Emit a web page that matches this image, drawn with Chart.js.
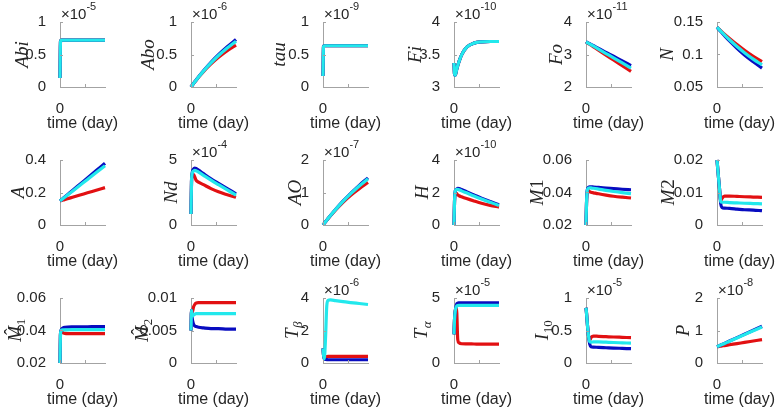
<!DOCTYPE html>
<html>
<head>
<meta charset="utf-8">
<script src="https://cdn.jsdelivr.net/npm/chart.js@4.4.1/dist/chart.umd.min.js"></script>
<style>
  body { margin:0; background:#fff; width:777px; height:410px; overflow:hidden; position:relative; }
  .cell { position:absolute; }
</style>
</head>
<body>
<script>
// ── Shared axis data ─────────────────────────────────────────
const t = [0, 2, 5, 10, 15, 20, 30, 50, 80, 110, 145, 180];
const xTicks = [0, 100];
const xTickLabels = ['0', ''];
const xLabel = 'time (day)';

// ── Row 1 ────────────────────────────────────────────────────
const abiRed  = [0.14, 0.70, 0.72, 0.72, 0.72, 0.72, 0.72, 0.72, 0.72, 0.72, 0.72, 0.72];
const abiBlue = [0.14, 0.70, 0.72, 0.72, 0.72, 0.72, 0.72, 0.72, 0.72, 0.72, 0.72, 0.72];
const abiCyan = [0.14, 0.70, 0.72, 0.72, 0.72, 0.72, 0.72, 0.72, 0.72, 0.72, 0.72, 0.72];

const aboRed  = [0, 0.011, 0.026, 0.052, 0.077, 0.101, 0.149, 0.237, 0.355, 0.458, 0.560, 0.645];
const aboBlue = [0, 0.011, 0.027, 0.053, 0.079, 0.105, 0.154, 0.249, 0.379, 0.496, 0.618, 0.730];
const aboCyan = [0, 0.011, 0.027, 0.053, 0.078, 0.103, 0.152, 0.245, 0.370, 0.485, 0.600, 0.705];

const tauRed  = [0.17, 0.62, 0.635, 0.635, 0.635, 0.635, 0.635, 0.635, 0.635, 0.635, 0.635, 0.635];
const tauBlue = [0.17, 0.62, 0.635, 0.635, 0.635, 0.635, 0.635, 0.635, 0.635, 0.635, 0.635, 0.635];
const tauCyan = [0.17, 0.62, 0.635, 0.635, 0.635, 0.635, 0.635, 0.635, 0.635, 0.635, 0.635, 0.635];

const fiRed  = [3.37, 3.20, 3.18, 3.26, 3.33, 3.39, 3.49, 3.61, 3.675, 3.695, 3.70, 3.70];
const fiBlue = [3.37, 3.20, 3.18, 3.26, 3.33, 3.39, 3.49, 3.61, 3.675, 3.695, 3.70, 3.70];
const fiCyan = [3.37, 3.20, 3.18, 3.26, 3.33, 3.39, 3.49, 3.61, 3.675, 3.695, 3.70, 3.70];

const foRed  = [3.39, 3.378, 3.362, 3.335, 3.31, 3.285, 3.235, 3.135, 2.98, 2.83, 2.655, 2.48];
const foBlue = [3.39, 3.382, 3.37, 3.35, 3.33, 3.31, 3.27, 3.19, 3.065, 2.945, 2.80, 2.66];
const foCyan = [3.39, 3.381, 3.367, 3.345, 3.322, 3.30, 3.255, 3.165, 3.03, 2.895, 2.74, 2.58];

const nRed  = [0.142, 0.1413, 0.1402, 0.1384, 0.1366, 0.1348, 0.1314, 0.1248, 0.1153, 0.1065, 0.0971, 0.089];
const nBlue = [0.142, 0.1411, 0.1397, 0.1375, 0.1353, 0.1331, 0.1289, 0.1208, 0.1096, 0.0993, 0.0888, 0.079];
const nCyan = [0.142, 0.1412, 0.1400, 0.1379, 0.1359, 0.1339, 0.1301, 0.1227, 0.1123, 0.1028, 0.0928, 0.084];

// ── Row 2 ────────────────────────────────────────────────────
const aRed  = [0.148, 0.1489, 0.1503, 0.1526, 0.1548, 0.1571, 0.1617, 0.1708, 0.1845, 0.1981, 0.2141, 0.23];
const aBlue = [0.148, 0.1506, 0.1544, 0.1609, 0.1673, 0.1738, 0.1867, 0.2124, 0.2511, 0.2898, 0.3349, 0.38];
const aCyan = [0.148, 0.1504, 0.154, 0.1601, 0.1661, 0.1721, 0.1842, 0.2083, 0.2445, 0.2807, 0.3229, 0.365];

const ndRed  = [0.85, 3.3, 3.9, 3.88, 3.7, 3.45, 3.3, 3.1, 2.8, 2.55, 2.33, 2.13];
const ndBlue = [0.85, 3.3, 4.05, 4.3, 4.38, 4.35, 4.22, 3.95, 3.55, 3.2, 2.8, 2.4];
const ndCyan = [0.85, 3.3, 4.0, 4.15, 4.2, 4.18, 4.07, 3.82, 3.45, 3.1, 2.7, 2.3];

const aoRed  = [0, 0.02, 0.05, 0.099, 0.147, 0.194, 0.286, 0.46, 0.70, 0.91, 1.12, 1.31];
const aoBlue = [0, 0.02, 0.05, 0.10, 0.15, 0.198, 0.293, 0.476, 0.733, 0.968, 1.22, 1.45];
const aoCyan = [0, 0.02, 0.05, 0.10, 0.149, 0.197, 0.291, 0.472, 0.725, 0.955, 1.20, 1.42];

const hRed  = [0, 1.4, 2.0, 1.95, 1.85, 1.8, 1.74, 1.63, 1.48, 1.34, 1.21, 1.1];
const hBlue = [0, 1.4, 2.1, 2.2, 2.25, 2.24, 2.18, 2.05, 1.85, 1.65, 1.44, 1.24];
const hCyan = [0, 1.4, 2.1, 2.18, 2.2, 2.17, 2.1, 1.98, 1.78, 1.6, 1.4, 1.2];

const m1Red  = [0.02, 0.033, 0.041, 0.0412, 0.0405, 0.0401, 0.0398, 0.0392, 0.0384, 0.0377, 0.0371, 0.0366];
const m1Blue = [0.02, 0.033, 0.0415, 0.0432, 0.0435, 0.0435, 0.0434, 0.0431, 0.0427, 0.0424, 0.042, 0.0417];
const m1Cyan = [0.02, 0.033, 0.0412, 0.0427, 0.0429, 0.0428, 0.0426, 0.0421, 0.0413, 0.0406, 0.0399, 0.0393];

const m2Red  = [0.02, 0.0182, 0.0155, 0.0112, 0.0074, 0.0082, 0.0089, 0.0089, 0.0088, 0.0087, 0.0086, 0.0085];
const m2Blue = [0.02, 0.0182, 0.0155, 0.0112, 0.0065, 0.0054, 0.0052, 0.0051, 0.0049, 0.0047, 0.0046, 0.0044];
const m2Cyan = [0.02, 0.0182, 0.0155, 0.0112, 0.0072, 0.0070, 0.0070, 0.0069, 0.0068, 0.0067, 0.0066, 0.0065];

// ── Row 3 ────────────────────────────────────────────────────
const mh1Red  = [0.02, 0.038, 0.0398, 0.039, 0.0384, 0.0382, 0.0381, 0.0381, 0.0381, 0.0381, 0.0381, 0.0381];
const mh1Blue = [0.02, 0.038, 0.0405, 0.0415, 0.0419, 0.042, 0.0421, 0.0422, 0.0423, 0.0423, 0.0424, 0.0424];
const mh1Cyan = [0.02, 0.038, 0.0402, 0.0404, 0.0404, 0.0404, 0.0404, 0.0405, 0.0405, 0.0405, 0.0405, 0.0405];

const mh2Red  = [0.005, 0.0081, 0.0078, 0.0086, 0.009, 0.0092, 0.0093, 0.0093, 0.0093, 0.0093, 0.0093, 0.0093];
const mh2Blue = [0.005, 0.0081, 0.0068, 0.006, 0.0057, 0.0056, 0.0055, 0.0054, 0.0053, 0.0053, 0.0052, 0.0052];
const mh2Cyan = [0.005, 0.0081, 0.0072, 0.0074, 0.0075, 0.0076, 0.0076, 0.0076, 0.0076, 0.0076, 0.0076, 0.0076];

const tbRed  = [0.9, 0.5, 0.3, 0.38, 0.4, 0.41, 0.41, 0.41, 0.41, 0.41, 0.41, 0.41];
const tbBlue = [0.9, 0.5, 0.25, 0.22, 0.21, 0.2, 0.2, 0.2, 0.2, 0.2, 0.2, 0.2];
const tbCyan = [0.9, 0.5, 0.25, 1.5, 3.5, 3.85, 3.88, 3.84, 3.78, 3.72, 3.66, 3.6];

const taRed  = [2.2, 3.3, 4.0, 4.2, 1.8, 1.55, 1.48, 1.47, 1.46, 1.45, 1.45, 1.45];
const taBlue = [2.2, 3.3, 4.0, 4.5, 4.6, 4.62, 4.63, 4.63, 4.63, 4.63, 4.63, 4.63];
const taCyan = [2.2, 3.3, 4.0, 4.35, 4.42, 4.43, 4.43, 4.43, 4.43, 4.43, 4.43, 4.43];

const i10Red  = [0.85, 0.77, 0.62, 0.42, 0.35, 0.39, 0.415, 0.41, 0.405, 0.4, 0.395, 0.39];
const i10Blue = [0.85, 0.77, 0.62, 0.42, 0.29, 0.25, 0.245, 0.24, 0.235, 0.23, 0.225, 0.22];
const i10Cyan = [0.85, 0.77, 0.62, 0.42, 0.33, 0.32, 0.325, 0.325, 0.32, 0.315, 0.31, 0.305];

const pRed  = [0.5, 0.5024, 0.5061, 0.5122, 0.5183, 0.5244, 0.5367, 0.5611, 0.5978, 0.6344, 0.6772, 0.72];
const pBlue = [0.5, 0.507, 0.5175, 0.535, 0.5525, 0.57, 0.605, 0.675, 0.78, 0.885, 1.0075, 1.13];
const pCyan = [0.5, 0.507, 0.517, 0.534, 0.551, 0.568, 0.602, 0.669, 0.771, 0.873, 0.992, 1.11];

// ── Tick sets ────────────────────────────────────────────────
const ticks0to1   = [0, 0.5, 1];
const ticks3to4   = [3, 3.5, 4];
const ticks2to4   = [2, 3, 4];
const ticksN      = [0.05, 0.1, 0.15];
const ticksA      = [0, 0.2, 0.4];
const ticks0to5   = [0, 5];
const ticks0to2   = [0, 1, 2];
const ticks0to4   = [0, 2, 4];
const ticksM1     = [0.02, 0.04, 0.06];
const ticksM2     = [0, 0.01, 0.02];
const ticksMh2    = [0, 0.005, 0.01];

// ── Style ────────────────────────────────────────────────────
const RED = 'rgb(226,16,18)', BLUE = 'rgb(8,12,192)', CYAN = 'rgb(34,232,236)';
const TXT = '#262626', AXIS = '#a3a3a3';
const SANS = '"Liberation Sans", Arial, sans-serif';
const SERIF = '"Liberation Serif", "Times New Roman", serif';
const colX = [60, 191, 323, 454, 586, 717];
const rowY = [22, 160, 298];
const PADL = 62, PADT = 22, PADR = 14, PADB = 50, AXW = 45, AXH = 65;

const panels = [
  { lab:[{t:'Abi'}], exp:'-5',  min:0, max:1, ticks:ticks0to1, r:abiRed, b:abiBlue, c:abiCyan, dx:-38 },
  { lab:[{t:'Abo'}], exp:'-6',  min:0, max:1, ticks:ticks0to1, r:aboRed, b:aboBlue, c:aboCyan, dx:-43 },
  { lab:[{t:'tau'}], exp:'-9',  min:0, max:1, ticks:ticks0to1, r:tauRed, b:tauBlue, c:tauCyan, dx:-44 },
  { lab:[{t:'Fi'}],  exp:'-10', min:3, max:4, ticks:ticks3to4, r:fiRed,  b:fiBlue,  c:fiCyan,  dx:-39 },
  { lab:[{t:'Fo'}],  exp:'-11', min:2, max:4, ticks:ticks2to4, r:foRed,  b:foBlue,  c:foCyan,  dx:-30 },
  { lab:[{t:'N'}],   exp:null,  min:0.05, max:0.15, ticks:ticksN, r:nRed, b:nBlue, c:nCyan, dx:-50 },

  { lab:[{t:'A'}],   exp:null,  min:0, max:0.4, ticks:ticksA, r:aRed, b:aBlue, c:aCyan, dx:-42 },
  { lab:[{t:'Nd'}],  exp:'-4',  min:0, max:5, ticks:ticks0to5, r:ndRed, b:ndBlue, c:ndCyan, dx:-20 },
  { lab:[{t:'AO'}],  exp:'-7',  min:0, max:2, ticks:ticks0to2, r:aoRed, b:aoBlue, c:aoCyan, dx:-28 },
  { lab:[{t:'H'}],   exp:'-10', min:0, max:4, ticks:ticks0to4, r:hRed, b:hBlue, c:hCyan, dx:-32 },
  { lab:[{t:'M'},{t:'1',up:true}], exp:null, min:0.02, max:0.06, ticks:ticksM1, r:m1Red, b:m1Blue, c:m1Cyan, dx:-49 },
  { lab:[{t:'M'},{t:'2',up:true}], exp:null, min:0, max:0.02, ticks:ticksM2, r:m2Red, b:m2Blue, c:m2Cyan, dx:-49 },

  { lab:[{t:'M',hat:true},{t:'1',up:true,sub:true}], exp:null, min:0.02, max:0.06, ticks:ticksM1, r:mh1Red, b:mh1Blue, c:mh1Cyan, dx:-45 },
  { lab:[{t:'M',hat:true},{t:'2',up:true,sub:true}], exp:null, min:0, max:0.01, ticks:ticksMh2, r:mh2Red, b:mh2Blue, c:mh2Cyan, dx:-49 },
  { lab:[{t:'T'},{t:'β',sub:true}], exp:'-6', min:0, max:4, ticks:ticks0to4, r:tbRed, b:tbBlue, c:tbCyan, dx:-31 },
  { lab:[{t:'T'},{t:'α',sub:true}], exp:'-5', min:0, max:5, ticks:ticks0to5, r:taRed, b:taBlue, c:taCyan, dx:-33 },
  { lab:[{t:'I'},{t:'10',up:true,sub:true}], exp:'-5', min:0, max:1, ticks:ticks0to1, r:i10Red, b:i10Blue, c:i10Cyan, dx:-44 },
  { lab:[{t:'P'}],   exp:'-8',  min:0, max:2, ticks:ticks0to2, r:pRed, b:pBlue, c:pCyan, dx:-34 },
];

// ── Helpers ──────────────────────────────────────────────────
function pts(vals) { return t.map((x, i) => ({ x, y: vals[i] })); }
function fmt(v) { return String(+Number(v).toFixed(6)); }

function drawRich(ctx, parts) {
  const base = 19, sub = 13;
  const fontOf = q => (q.up ? '' : 'italic ') + (q.sub ? sub : base) + 'px ' + SERIF;
  let total = 0;
  const ws = parts.map(q => { ctx.font = fontOf(q); const w = ctx.measureText(q.t).width; total += w; return w; });
  let x = -total / 2;
  ctx.textAlign = 'left'; ctx.textBaseline = 'alphabetic';
  parts.forEach((q, i) => {
    ctx.font = fontOf(q);
    const y = q.sub ? 10 : 6;
    ctx.fillText(q.t, x, y);
    if (q.hat) {
      ctx.font = base + 'px ' + SERIF;
      ctx.textAlign = 'center';
      ctx.fillText('ˆ', x + ws[i] / 2 + 2, y - 4);
      ctx.textAlign = 'left';
    }
    x += ws[i] + (q.sub ? 0 : 0.5);
  });
}

function makeDecor(p) {
  return {
    id: 'decor',
    afterDraw(chart) {
      const { ctx, chartArea: a, scales } = chart;
      ctx.save();
      // inward tick marks
      ctx.strokeStyle = AXIS; ctx.lineWidth = 1;
      p.ticks.forEach(v => {
        const y = Math.round(scales.y.getPixelForValue(v)) + 0.5;
        ctx.beginPath(); ctx.moveTo(a.left, y); ctx.lineTo(a.left + 3, y); ctx.stroke();
      });
      xTicks.forEach(v => {
        const x = Math.round(scales.x.getPixelForValue(v)) + 0.5;
        ctx.beginPath(); ctx.moveTo(x, a.bottom); ctx.lineTo(x, a.bottom - 3); ctx.stroke();
      });
      // x title
      ctx.fillStyle = TXT;
      ctx.font = '16px ' + SANS;
      ctx.textAlign = 'center'; ctx.textBaseline = 'middle';
      ctx.fillText(xLabel, (a.left + a.right) / 2, a.bottom + 37);
      // exponent
      if (p.exp) {
        ctx.textAlign = 'left'; ctx.textBaseline = 'alphabetic';
        ctx.font = '15px ' + SANS;
        ctx.fillText('×10', a.left + 1, a.top - 3);
        const w = ctx.measureText('×10').width;
        ctx.font = '11px ' + SANS;
        ctx.fillText(p.exp, a.left + 1 + w, a.top - 12);
      }
      // y label
      ctx.translate(a.left + p.dx, (a.top + a.bottom) / 2);
      ctx.rotate(-Math.PI / 2);
      drawRich(ctx, p.lab);
      ctx.restore();
    }
  };
}

// ── Build grid ───────────────────────────────────────────────
Chart.defaults.font.family = SANS;
Chart.defaults.color = TXT;

panels.forEach((p, i) => {
  const col = i % 6, row = Math.floor(i / 6);
  const div = document.createElement('div');
  div.className = 'cell';
  div.style.left = (colX[col] - PADL) + 'px';
  div.style.top = (rowY[row] - PADT) + 'px';
  div.style.width = (PADL + AXW + PADR) + 'px';
  div.style.height = (PADT + AXH + PADB) + 'px';
  const cv = document.createElement('canvas');
  div.appendChild(cv);
  document.body.appendChild(div);

  const ds = (vals, color) => ({ data: pts(vals), borderColor: color, borderWidth: 3.2, pointRadius: 0,
    cubicInterpolationMode: 'monotone', clip: false, fill: false });

  new Chart(cv, {
    type: 'line',
    data: { datasets: [ds(p.c, CYAN), ds(p.b, BLUE), ds(p.r, RED)] },
    options: {
      responsive: true, maintainAspectRatio: false, animation: false,
      layout: { padding: { top: PADT, right: PADR, left: 0, bottom: 0 } },
      plugins: { legend: { display: false }, tooltip: { enabled: false } },
      scales: {
        x: {
          type: 'linear', min: 0, max: 180,
          afterFit(s) { s.height = PADB; },
          afterBuildTicks(s) { s.ticks = xTicks.map(v => ({ value: v })); },
          ticks: { callback: (v, k) => xTickLabels[k], padding: 5, color: TXT, font: { size: 15 }, maxRotation: 0, autoSkip: false },
          grid: { display: false },
          border: { display: true, color: AXIS, width: 1 }
        },
        y: {
          min: p.min, max: p.max,
          afterFit(s) { s.width = PADL; },
          afterBuildTicks(s) { s.ticks = p.ticks.map(v => ({ value: v })); },
          ticks: { callback: v => fmt(v), padding: 6, color: TXT, font: { size: 15 }, autoSkip: false },
          grid: { display: false },
          border: { display: true, color: AXIS, width: 1 }
        }
      }
    },
    plugins: [makeDecor(p)]
  });
});
</script>
</body>
</html>
